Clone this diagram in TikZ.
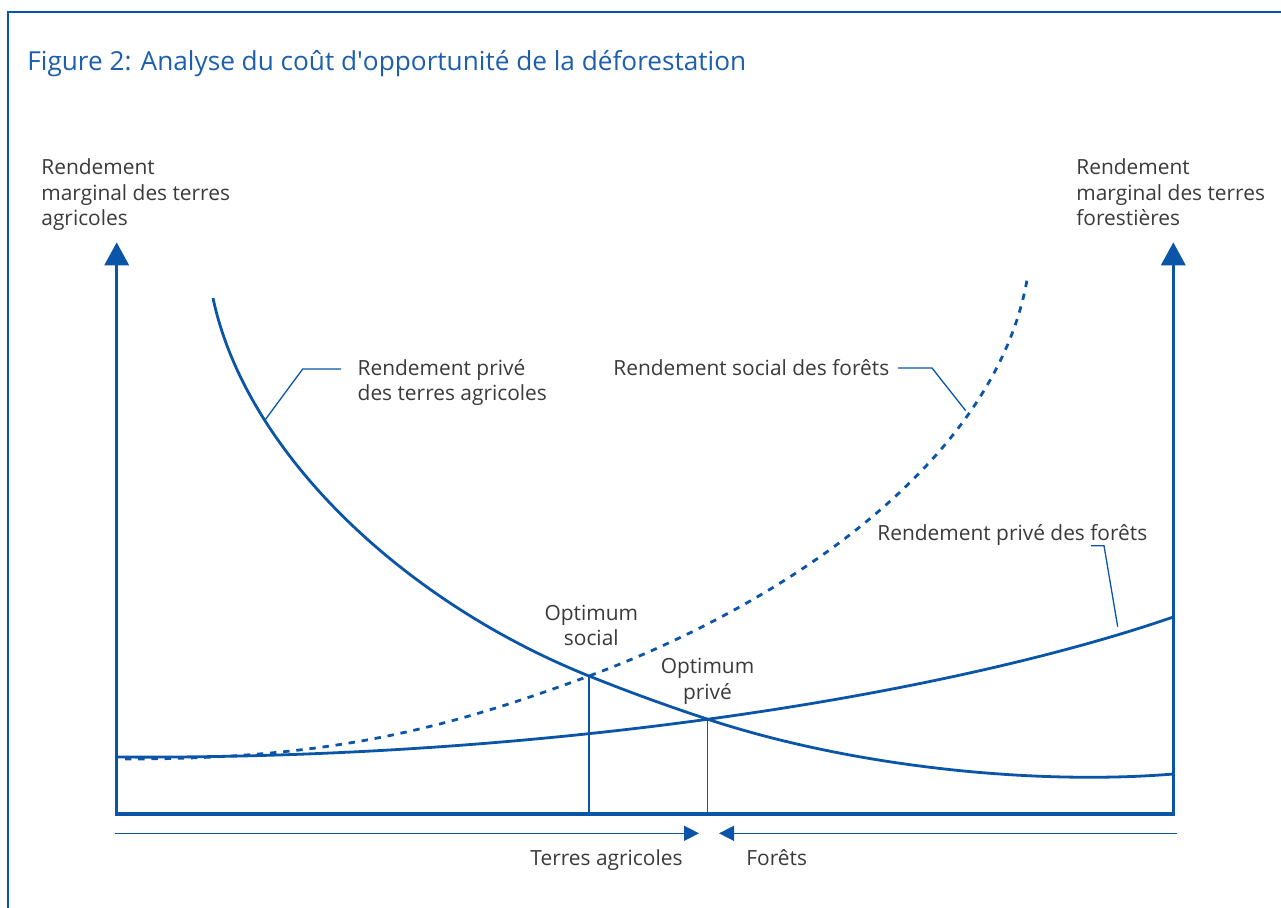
\documentclass[tikz,border=0pt]{standalone}
\usepackage{fontspec}
\setmainfont{Open Sans}
\usetikzlibrary{arrows.meta,intersections}
\definecolor{lineblue}{HTML}{0A55A7}
\definecolor{titleblue}{HTML}{1B5FAD}
\definecolor{txtgray}{HTML}{3A3A3A}
\begin{document}
\begin{tikzpicture}[x=0.5pt,y=-0.5pt,
  lbl/.style={font=\fontsize{10.45}{12.75}\selectfont, text=txtgray, inner sep=0pt},
  axis/.style={draw=lineblue, line width=1.75pt, line join=miter,
     {Triangle[width=12pt,length=11.5pt]}-{Triangle[width=12pt,length=11.5pt]}},
  curve/.style={draw=lineblue, line width=1.4pt},
  dcurve/.style={draw=lineblue, line width=1.4pt, dash pattern=on 3.2pt off 3.4pt},
  thin/.style={draw=lineblue, line width=0.65pt},
  dirarrow/.style={draw=lineblue, line width=0.75pt, -{Triangle[width=7.5pt,length=7.5pt]}}]
\useasboundingbox (0,0) rectangle (1281,907);
% frame
\draw[lineblue, line width=1pt] (8.3,960) -- (8.3,11.7) -- (1300,11.7);
% title
\node[font=\fontsize{13.1}{15}\selectfont, text=titleblue, inner sep=0pt, anchor=base west] (title) at (27,70) {Figure 2: Analyse du coût d\textquotesingle opportunité de la déforestation};
% axes
\coordinate (ytopL) at (116.7,242.3);
\coordinate (origL) at (116.7,814);
\coordinate (origR) at (1173.3,814);
\coordinate (ytopR) at (1173.3,242.3);
\draw[axis] (ytopL) -- (origL) -- (origR) -- (ytopR);
% axis labels
\node[lbl, align=left, anchor=north west] (ylabL) at (41,158.5) {Rendement\\marginal des terres\\agricoles};
\node[lbl, align=left, anchor=north west] (ylabR) at (1076,158.5) {Rendement\\marginal des terres\\forestières};
% social forest return (dashed)
\draw[dcurve, name path=social] (125,759) .. controls (325,759) and (439,731.5) .. (589,676)
   .. controls (789,602) and (995,460) .. (1027,280);
% private forest return
\draw[curve, name path=forest] (116.7,757) .. controls (550,760) and (950,694) .. (1173.3,617);
% private agricultural return
\draw[curve, name path=agri] (213,298) .. controls (245,450) and (400,600) .. (589,676)
   .. controls (629,692) and (667,705.8) .. (707,719)
   .. controls (857,768.5) and (1040,785) .. (1173.3,774);
% intersections (optima)
\path[name intersections={of=agri and social, by=optS}];
\path[name intersections={of=agri and forest, by=optP}];
\draw[thin] (optS |- origL) -- (optS);
\draw[thin] (optP |- origL) -- (optP);
% optimum labels
\node[lbl, align=center, anchor=north] (labS) at (591.3,604.5) {Optimum\\social};
\node[lbl, align=center, anchor=north] (labP) at (707.5,657.8) {Optimum\\privé};
% curve labels and leaders
\node[lbl, align=left, anchor=north west] (labAgri) at (357.3,359) {Rendement privé\\des terres agricoles};
\coordinate (la1) at (264.3,421);
\coordinate (la2) at (302.7,369);
\coordinate (la3) at (341,369);
\draw[thin] (la1) -- (la2) -- (la3);
\node[lbl, anchor=base west] (labSoc) at (613,375) {Rendement social des forêts};
\coordinate (ls1) at (898,368);
\coordinate (ls2) at (932,368);
\coordinate (ls3) at (965.7,410.7);
\draw[thin] (ls1) -- (ls2) -- (ls3);
\node[lbl, anchor=base west] (labFor) at (877,540) {Rendement privé des forêts};
\coordinate (lf1) at (1091,545.7);
\coordinate (lf2) at (1104,545.7);
\coordinate (lf3) at (1117.7,626.7);
\draw[thin] (lf1) -- (lf2) -- (lf3);
% direction arrows
\coordinate (dA0) at (115,833.3);
\coordinate (dA1) at (699,833.3);
\coordinate (dF0) at (1176.7,833.3);
\coordinate (dF1) at (719,833.3);
\draw[dirarrow] (dA0) -- (dA1);
\draw[dirarrow] (dF0) -- (dF1);
\node[lbl, anchor=base] (labTA) at (606.5,865) {Terres agricoles};
\node[lbl, anchor=base west] (labF) at (746,865) {Forêts};
\end{tikzpicture}
\end{document}
